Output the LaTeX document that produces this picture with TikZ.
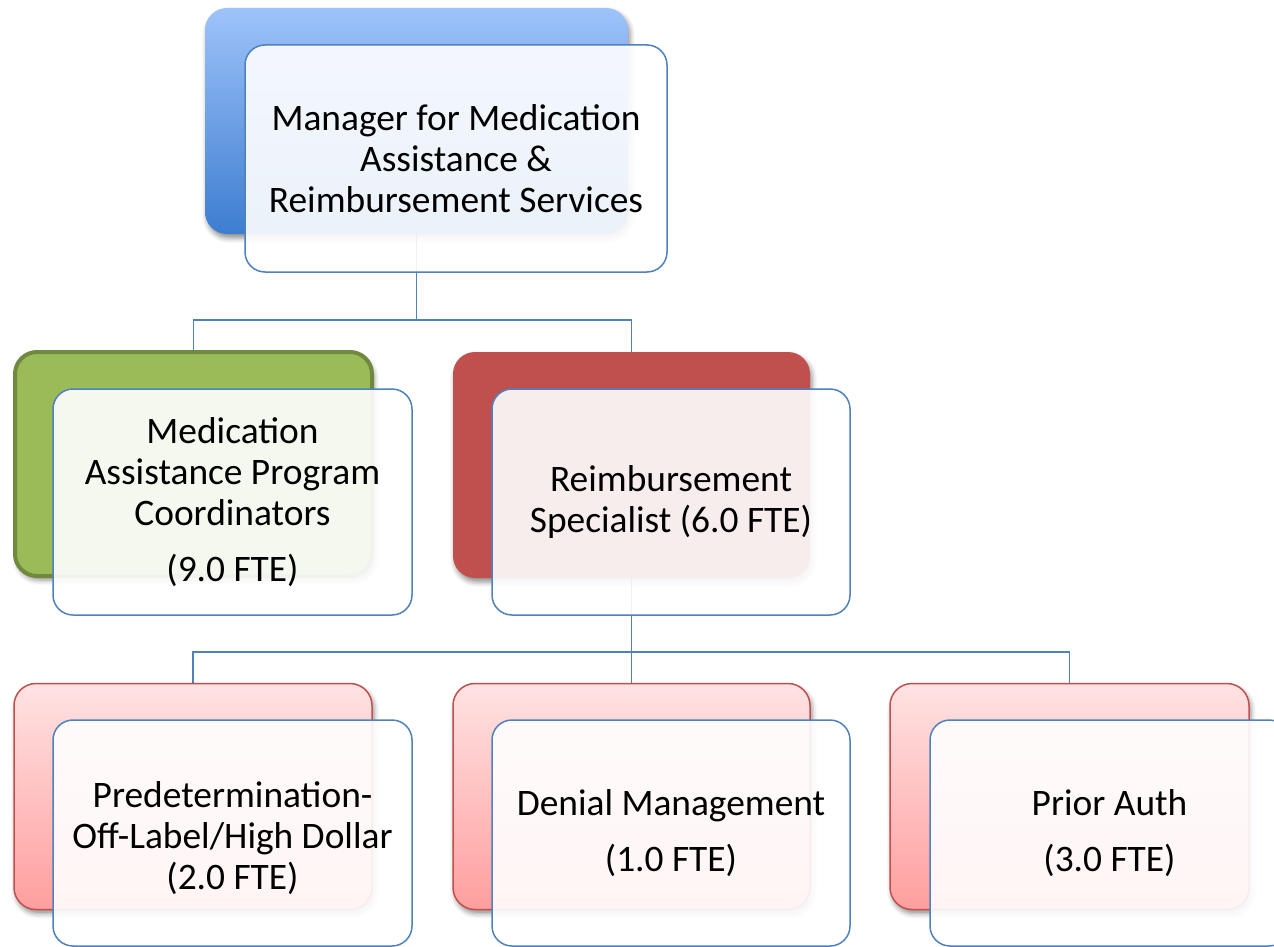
\documentclass[tikz,border=0pt]{standalone}
\usepackage{fontspec}
\setmainfont{Carlito}
\usetikzlibrary{shadows.blur}
\pgfdeclarelayer{bg}
\pgfsetlayers{bg,main}

\definecolor{linkblue}{HTML}{4F81BD}
\definecolor{mgrtop}{HTML}{9EC3FA}
\definecolor{mgrbot}{HTML}{3D7DD0}
\definecolor{leafgreen}{HTML}{9BBB59}
\definecolor{leafgreenedge}{HTML}{71893F}
\definecolor{specred}{HTML}{C0504D}
\definecolor{pinktop}{HTML}{FFE3E3}
\definecolor{pinkbot}{HTML}{FF9E9E}

\tikzset{
  boxfont/.style={align=center, font=\fontsize{37.4}{40.8}\selectfont},
  backbox/.style={rectangle, rounded corners=22pt, inner sep=0pt,
    blur shadow={shadow xshift=2pt, shadow yshift=-4pt, shadow blur radius=5pt, shadow opacity=45}},
  frontbox/.style={rectangle, rounded corners=20pt, inner sep=0pt,
    minimum width=359pt, minimum height=226pt,
    draw=linkblue, line width=1.5pt, fill=white, fill opacity=0.9, text opacity=1, boxfont},
  link/.style={draw=linkblue, line width=1.5pt},
  pinkback/.style={backbox, minimum width=358pt, minimum height=226pt,
    top color=pinktop, bottom color=pinkbot, draw=specred, line width=1.5pt},
}

\begin{document}
\begin{tikzpicture}[x=1pt, y=-1pt]
\useasboundingbox (0,0) rectangle (1274,947);

% manager
\node[backbox, minimum width=423pt, minimum height=226pt, top color=mgrtop, bottom color=mgrbot]
  (mgrback) at (416.5,121) {};
\node[frontbox, minimum width=422pt, minimum height=227pt] (mgrfront) at (456,158.5)
  {Manager for Medication\\Assistance \&\\Reimbursement Services};

% second level
\node[backbox, minimum width=357pt, minimum height=224pt, fill=leafgreen, draw=leafgreenedge, line width=4pt]
  (mapback) at (193.5,464) {};
\node[frontbox] (mapfront) at (232.5,502)
  {Medication\\Assistance Program\\Coordinators\\[15pt](9.0 FTE)};

\node[backbox, minimum width=357pt, minimum height=226pt, fill=specred]
  (rsback) at (631.5,465) {};
\node[frontbox, minimum width=358pt] (rsfront) at (671,502)
  {Reimbursement\\Specialist (6.0 FTE)};

% third level
\node[pinkback] (pdback) at (193,796.5) {};
\node[frontbox] (pdfront) at (232.5,833) {};
\node[boxfont, inner sep=0pt] (pdtext) at ([yshift=-5pt]pdfront.center)
  {Predetermination-\\Off-Label/High Dollar\\(2.0 FTE)};

\node[pinkback, minimum width=357pt] (dmback) at (631.5,796.5) {};
\node[frontbox, minimum width=358pt] (dmfront) at (671,833)
  {Denial Management\\[16pt](1.0 FTE)};

\node[pinkback, minimum width=359pt] (paback) at (1069.5,796.5) {};
\node[frontbox] (pafront) at (1109.5,833)
  {Prior Auth\\[16pt](3.0 FTE)};

% connectors, kept underneath the boxes
\begin{pgfonlayer}{bg}
  \draw[link] (mgrback.south) -- ++(0,86) -| (mapback.north);
  \draw[link] (mgrback.south) -- ++(0,86) -| (rsback.north);
  \draw[link] (rsback.south) -- ++(0,74) -| (pdback.north);
  \draw[link] (rsback.south) -- ++(0,74) -| (dmback.north);
  \draw[link] (rsback.south) -- ++(0,74) -| (paback.north);
\end{pgfonlayer}
\end{tikzpicture}
\end{document}
